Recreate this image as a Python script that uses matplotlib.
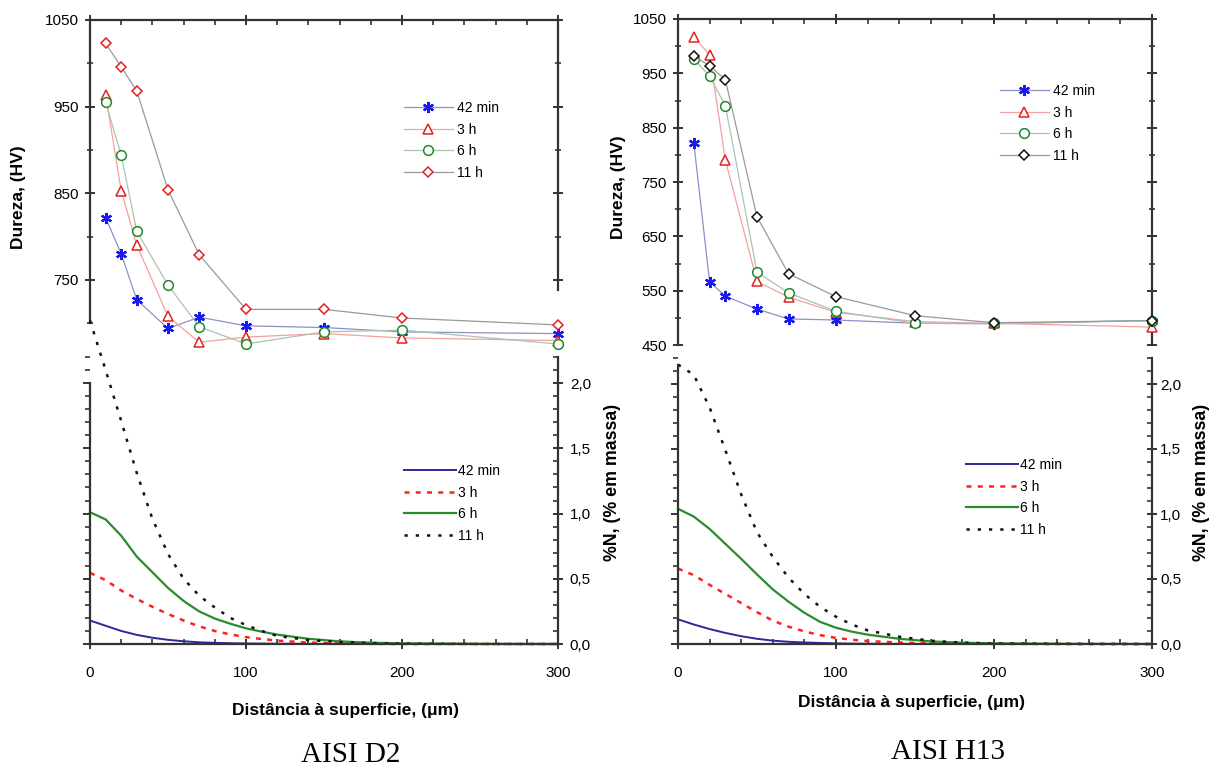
import numpy as np
import matplotlib.pyplot as plt
from matplotlib.ticker import MultipleLocator

plt.rcParams['font.family'] = ['Liberation Sans', 'DejaVu Sans']

# dureza (HV) x distância (um)
dist_hv = [10, 20, 30, 50, 70, 100, 150, 200, 300]
series_names = ['42 min', '3 h', '6 h', '11 h']

d2_42min = [822, 780, 727, 694, 707, 697, 695, 690, 688]
d2_3h = [964, 853, 790, 708, 678, 684, 688, 683, 680]
d2_6h = [955, 894, 806, 744, 696, 676, 690, 692, 676]
d2_11h = [1023, 996, 968, 854, 779, 716, 716, 706, 698]

h13_42min = [822, 566, 540, 516, 498, 496, 490, 489, 495]
h13_3h = [1017, 984, 790, 567, 538, 510, 493, 490, 483]
h13_6h = [976, 945, 890, 584, 546, 512, 490, 490, 495]
h13_11h = [982, 964, 938, 686, 581, 539, 504, 491, 495]

# perfis de nitrogênio (% em massa)
dist_n = [0, 10, 20, 30, 40, 50, 60, 70, 80, 90, 100, 110, 120, 140, 160, 180, 200, 250, 300]

d2_n_42min = [0.18, 0.14, 0.10, 0.07, 0.048, 0.032, 0.021, 0.013, 0.009, 0.006, 0.004, 0.003, 0.002, 0.001, 0, 0, 0, 0, 0]
d2_n_3h = [0.545, 0.49, 0.41, 0.345, 0.285, 0.23, 0.18, 0.135, 0.10, 0.073, 0.053, 0.038, 0.026, 0.011, 0.004, 0.001, 0, 0, 0]
d2_n_6h = [1.01, 0.955, 0.83, 0.67, 0.55, 0.43, 0.33, 0.25, 0.195, 0.155, 0.12, 0.095, 0.072, 0.04, 0.02, 0.01, 0.005, 0.001, 0]
d2_n_11h = [2.48, 2.10, 1.71, 1.31, 0.96, 0.69, 0.50, 0.37, 0.28, 0.20, 0.145, 0.10, 0.062, 0.03, 0.015, 0.007, 0.003, 0, 0]

h13_n_42min = [0.19, 0.15, 0.115, 0.085, 0.06, 0.04, 0.026, 0.017, 0.012, 0.008, 0.005, 0.003, 0.002, 0.001, 0, 0, 0, 0, 0]
h13_n_3h = [0.58, 0.53, 0.455, 0.385, 0.315, 0.245, 0.18, 0.133, 0.097, 0.068, 0.047, 0.033, 0.023, 0.011, 0.005, 0.002, 0.001, 0, 0]
h13_n_6h = [1.04, 0.98, 0.885, 0.77, 0.655, 0.535, 0.42, 0.325, 0.24, 0.17, 0.125, 0.095, 0.072, 0.04, 0.02, 0.01, 0.005, 0.001, 0]
h13_n_11h = [2.15, 2.07, 1.82, 1.49, 1.15, 0.86, 0.67, 0.51, 0.385, 0.285, 0.21, 0.15, 0.105, 0.056, 0.025, 0.01, 0.004, 0.001, 0]

n_ticks = [0, 0.5, 1.0, 1.5, 2.0]
n_ticklabels = ['0,0', '0,5', '1,0', '1,5', '2,0']

W, H = 1210, 767
fig = plt.figure(figsize=(W / 100, H / 100), dpi=100)


def box(x0, x1, top, bottom):
    return [x0 / W, 1 - bottom / H, (x1 - x0) / W, (bottom - top) / H]


spine_c = '#333333'
mk_style = [
    dict(marker=(6, 2, 0), color='#1a1aee', line='#8c90c8', ms=8, mew=1.6),
    dict(marker='^', color='#e42020', line='#f4a0a0', ms=7, mew=1.1),
    dict(marker='o', color='#1f8a2a', line='#a8c4b0', ms=7, mew=1.1),
    dict(marker='D', color='#e42020', line='#9a9a9a', ms=5.5, mew=1.1),
]
n_style = [
    dict(color='#2a2a98', ls='-', lw=1.4),
    dict(color='#ff2020', ls=(0, (2, 2.5)), lw=1.8),
    dict(color='#2a8c2a', ls='-', lw=1.6),
    dict(color='#111111', ls=(0, (1.3, 3.2)), lw=1.8),
]
tick_fs = 11


def style_spines(ax, names):
    for s in names:
        ax.spines[s].set_linewidth(1.6)
        ax.spines[s].set_color(spine_c)


def hardness_axes(rect, ylim, left_b, right_b, series, diamond_color, leg_xy):
    ax = fig.add_axes(rect)
    ax.patch.set_alpha(0)
    for i, ys in enumerate(series):
        st = mk_style[i]
        c = diamond_color if i == 3 else st['color']
        ax.plot(dist_hv, ys, color=st['line'], lw=0.9, marker=st['marker'],
                ms=st['ms'], mec=c, mfc='white' if i else c, mew=st['mew'],
                label=series_names[i], clip_on=False, zorder=3)
    ax.set_xlim(0, 300)
    ax.set_ylim(*ylim)
    ax.spines['bottom'].set_visible(False)
    ax.spines['left'].set_bounds(*left_b)
    ax.spines['right'].set_bounds(*right_b)
    style_spines(ax, ['left', 'right', 'top'])
    ax.xaxis.set_major_locator(MultipleLocator(100))
    ax.xaxis.set_minor_locator(MultipleLocator(20))
    ax.set_yticks([v for v in range(450, 1051, 100) if v >= left_b[0]])
    ax.yaxis.set_minor_locator(MultipleLocator(50))
    ax.tick_params(axis='x', which='both', bottom=False, top=True,
                   labelbottom=False, labeltop=False, color=spine_c)
    ax.tick_params(axis='x', which='major', direction='inout', length=7, width=1.4)
    ax.tick_params(axis='x', which='minor', direction='in', length=3.5, width=1.2)
    ax.tick_params(axis='y', which='both', left=True, right=True,
                   direction='inout', color=spine_c, labelsize=tick_fs, pad=4.5)
    ax.tick_params(axis='y', which='major', length=7, width=1.4)
    ax.tick_params(axis='y', which='minor', length=5, width=1.2)
    ax.legend(loc='upper left', bbox_to_anchor=(leg_xy[0] / W, 1 - leg_xy[1] / H),
              bbox_transform=fig.transFigure, frameon=False, fontsize=10,
              numpoints=1, handlelength=3.5, handletextpad=0.35,
              labelspacing=0.55, borderpad=0, borderaxespad=0)
    return ax


def nitrogen_axes(rect, left_top, series, leg_xy, label_pad):
    ax = fig.add_axes(rect)
    ax.patch.set_alpha(0)
    for i, ys in enumerate(series):
        st = n_style[i]
        ax.plot(dist_n, ys, color=st['color'], ls=st['ls'], lw=st['lw'],
                label=series_names[i], clip_on=False, zorder=2)
    ax.set_xlim(0, 300)
    ax.set_ylim(0, 2.2)
    for s in ['top', 'right']:
        ax.spines[s].set_visible(False)
    ax.spines['left'].set_bounds(0, left_top)
    style_spines(ax, ['left', 'bottom'])
    ax.xaxis.set_major_locator(MultipleLocator(100))
    ax.xaxis.set_minor_locator(MultipleLocator(20))
    ax.set_yticks(n_ticks)
    ax.set_yticklabels([])
    ax.yaxis.set_minor_locator(MultipleLocator(0.1))
    ax.tick_params(axis='x', which='both', color=spine_c, labelsize=tick_fs, pad=12)
    ax.tick_params(axis='x', which='major', direction='inout', length=7, width=1.4)
    ax.tick_params(axis='x', which='minor', direction='in', length=3.6, width=1.2)
    ax.tick_params(axis='y', which='both', direction='out', color=spine_c)
    ax.tick_params(axis='y', which='major', length=5, width=1.4)
    ax.tick_params(axis='y', which='minor', length=3.6, width=1.2)

    # eixo da direita com os rótulos de %N
    axr = ax.twinx()
    axr.set_ylim(0, 2.2)
    for s in ['top', 'left', 'bottom']:
        axr.spines[s].set_visible(False)
    axr.spines['right'].set_bounds(0, 2.2)
    style_spines(axr, ['right'])
    axr.set_yticks(n_ticks)
    axr.set_yticklabels(n_ticklabels)
    axr.yaxis.set_minor_locator(MultipleLocator(0.1))
    axr.tick_params(axis='y', which='both', color=spine_c, labelsize=tick_fs,
                    pad=label_pad)
    axr.tick_params(axis='y', which='major', direction='inout', length=7, width=1.4)
    axr.tick_params(axis='y', which='minor', direction='in', length=3.6, width=1.2)

    ax.legend(loc='upper left', bbox_to_anchor=(leg_xy[0] / W, 1 - leg_xy[1] / H),
              bbox_transform=fig.transFigure, frameon=False, fontsize=10,
              handlelength=3.75, handletextpad=0.12, labelspacing=0.55,
              borderpad=0, borderaxespad=0)
    return ax


# AISI D2
hardness_axes(box(90, 558, 20, 357), (661, 1050), (700, 1050), (738, 1050),
              [d2_42min, d2_3h, d2_6h, d2_11h], '#e42020', (404, 101))
nitrogen_axes(box(90, 558, 357, 644), 2.0,
              [d2_n_42min, d2_n_3h, d2_n_6h, d2_n_11h], (404, 464), 5)

# AISI H13
hardness_axes(box(678, 1152, 19, 345), (450, 1050), (450, 1050), (450, 1050),
              [h13_42min, h13_3h, h13_6h, h13_11h], '#111111', (1000, 84))
nitrogen_axes(box(678, 1152, 358, 644), 2.15,
              [h13_n_42min, h13_n_3h, h13_n_6h, h13_n_11h], (966, 458), 2.5)

lab = dict(fontweight='bold', ha='center', va='center')
fig.text(19 / W, 1 - 197 / H, 'Dureza, (HV)', rotation=90, fontsize=12.5, **lab)
fig.text(619 / W, 1 - 187 / H, 'Dureza, (HV)', rotation=90, fontsize=12.5, **lab)
fig.text(612 / W, 1 - 482 / H, '%N, (% em massa)', rotation=90, fontsize=12.8, **lab)
fig.text(1202 / W, 1 - 482 / H, '%N, (% em massa)', rotation=90, fontsize=12.8, **lab)
fig.text(345 / W, 1 - 710 / H, 'Distância à superficie, (μm)', fontsize=12.5, **lab)
fig.text(912 / W, 1 - 702 / H, 'Distância à superficie, (μm)', fontsize=12.5, **lab)

cap = dict(fontsize=21, family='Liberation Serif', ha='center', va='center')
fig.text(351 / W, 1 - 755 / H, 'AISI D2', **cap)
fig.text(948 / W, 1 - 752 / H, 'AISI H13', **cap)

fig.savefig('out.png', dpi=100)
